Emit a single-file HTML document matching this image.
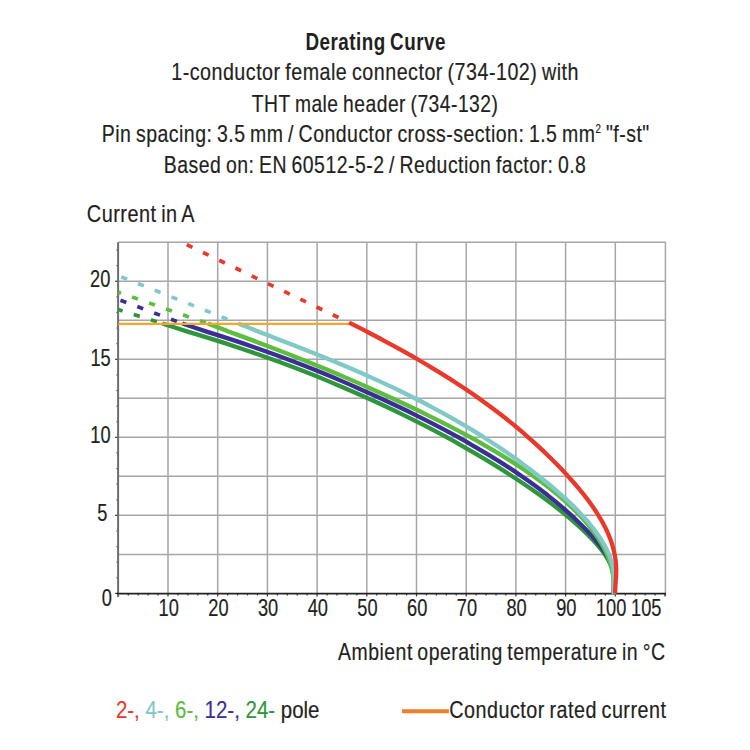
<!DOCTYPE html>
<html><head><meta charset="utf-8"><style>
html,body{margin:0;padding:0;background:#fff;}
svg{display:block;}
text{font-family:"Liberation Sans",sans-serif;}
.ws{word-spacing:-1.6px;letter-spacing:0.6px;}
</style></head><body>
<svg width="750" height="750" viewBox="0 0 750 750">
<rect width="750" height="750" fill="#fff"/>
<line x1="168.00" y1="242.2" x2="168.00" y2="593.4" stroke="#a6a6a6" stroke-width="1.5"/>
<line x1="217.70" y1="242.2" x2="217.70" y2="593.4" stroke="#a6a6a6" stroke-width="1.5"/>
<line x1="267.40" y1="242.2" x2="267.40" y2="593.4" stroke="#a6a6a6" stroke-width="1.5"/>
<line x1="317.10" y1="242.2" x2="317.10" y2="593.4" stroke="#a6a6a6" stroke-width="1.5"/>
<line x1="366.80" y1="242.2" x2="366.80" y2="593.4" stroke="#a6a6a6" stroke-width="1.5"/>
<line x1="416.50" y1="242.2" x2="416.50" y2="593.4" stroke="#a6a6a6" stroke-width="1.5"/>
<line x1="466.20" y1="242.2" x2="466.20" y2="593.4" stroke="#a6a6a6" stroke-width="1.5"/>
<line x1="515.90" y1="242.2" x2="515.90" y2="593.4" stroke="#a6a6a6" stroke-width="1.5"/>
<line x1="565.60" y1="242.2" x2="565.60" y2="593.4" stroke="#a6a6a6" stroke-width="1.5"/>
<line x1="615.30" y1="242.2" x2="615.30" y2="593.4" stroke="#a6a6a6" stroke-width="1.5"/>
<line x1="118.3" y1="554.38" x2="665.6" y2="554.38" stroke="#a6a6a6" stroke-width="1.5"/>
<line x1="118.3" y1="515.36" x2="665.6" y2="515.36" stroke="#a6a6a6" stroke-width="1.5"/>
<line x1="118.3" y1="476.34" x2="665.6" y2="476.34" stroke="#a6a6a6" stroke-width="1.5"/>
<line x1="118.3" y1="437.32" x2="665.6" y2="437.32" stroke="#a6a6a6" stroke-width="1.5"/>
<line x1="118.3" y1="398.30" x2="665.6" y2="398.30" stroke="#a6a6a6" stroke-width="1.5"/>
<line x1="118.3" y1="359.28" x2="665.6" y2="359.28" stroke="#a6a6a6" stroke-width="1.5"/>
<line x1="118.3" y1="320.26" x2="665.6" y2="320.26" stroke="#a6a6a6" stroke-width="1.5"/>
<line x1="118.3" y1="281.24" x2="665.6" y2="281.24" stroke="#a6a6a6" stroke-width="1.5"/>
<line x1="118.3" y1="242.22" x2="665.6" y2="242.22" stroke="#a6a6a6" stroke-width="1.5"/>
<line x1="665.4" y1="242.2" x2="665.4" y2="596" stroke="#a6a6a6" stroke-width="1.5"/>
<line x1="115.10" y1="593.40" x2="118.3" y2="593.40" stroke="#333" stroke-width="1.2"/>
<line x1="116.50" y1="577.79" x2="118.3" y2="577.79" stroke="#333" stroke-width="1.2"/>
<line x1="116.50" y1="562.18" x2="118.3" y2="562.18" stroke="#333" stroke-width="1.2"/>
<line x1="116.50" y1="546.58" x2="118.3" y2="546.58" stroke="#333" stroke-width="1.2"/>
<line x1="116.50" y1="530.97" x2="118.3" y2="530.97" stroke="#333" stroke-width="1.2"/>
<line x1="115.10" y1="515.36" x2="118.3" y2="515.36" stroke="#333" stroke-width="1.2"/>
<line x1="116.50" y1="499.75" x2="118.3" y2="499.75" stroke="#333" stroke-width="1.2"/>
<line x1="116.50" y1="484.14" x2="118.3" y2="484.14" stroke="#333" stroke-width="1.2"/>
<line x1="116.50" y1="468.54" x2="118.3" y2="468.54" stroke="#333" stroke-width="1.2"/>
<line x1="116.50" y1="452.93" x2="118.3" y2="452.93" stroke="#333" stroke-width="1.2"/>
<line x1="115.10" y1="437.32" x2="118.3" y2="437.32" stroke="#333" stroke-width="1.2"/>
<line x1="116.50" y1="421.71" x2="118.3" y2="421.71" stroke="#333" stroke-width="1.2"/>
<line x1="116.50" y1="406.10" x2="118.3" y2="406.10" stroke="#333" stroke-width="1.2"/>
<line x1="116.50" y1="390.50" x2="118.3" y2="390.50" stroke="#333" stroke-width="1.2"/>
<line x1="116.50" y1="374.89" x2="118.3" y2="374.89" stroke="#333" stroke-width="1.2"/>
<line x1="115.10" y1="359.28" x2="118.3" y2="359.28" stroke="#333" stroke-width="1.2"/>
<line x1="116.50" y1="343.67" x2="118.3" y2="343.67" stroke="#333" stroke-width="1.2"/>
<line x1="116.50" y1="328.06" x2="118.3" y2="328.06" stroke="#333" stroke-width="1.2"/>
<line x1="116.50" y1="312.46" x2="118.3" y2="312.46" stroke="#333" stroke-width="1.2"/>
<line x1="116.50" y1="296.85" x2="118.3" y2="296.85" stroke="#333" stroke-width="1.2"/>
<line x1="115.10" y1="281.24" x2="118.3" y2="281.24" stroke="#333" stroke-width="1.2"/>
<line x1="116.50" y1="265.63" x2="118.3" y2="265.63" stroke="#333" stroke-width="1.2"/>
<line x1="116.50" y1="250.02" x2="118.3" y2="250.02" stroke="#333" stroke-width="1.2"/>
<line x1="118.30" y1="593.4" x2="118.30" y2="596.40" stroke="#333" stroke-width="1.2"/>
<line x1="128.24" y1="593.4" x2="128.24" y2="595.40" stroke="#333" stroke-width="1.2"/>
<line x1="138.18" y1="593.4" x2="138.18" y2="595.40" stroke="#333" stroke-width="1.2"/>
<line x1="148.12" y1="593.4" x2="148.12" y2="595.40" stroke="#333" stroke-width="1.2"/>
<line x1="158.06" y1="593.4" x2="158.06" y2="595.40" stroke="#333" stroke-width="1.2"/>
<line x1="168.00" y1="593.4" x2="168.00" y2="596.40" stroke="#333" stroke-width="1.2"/>
<line x1="177.94" y1="593.4" x2="177.94" y2="595.40" stroke="#333" stroke-width="1.2"/>
<line x1="187.88" y1="593.4" x2="187.88" y2="595.40" stroke="#333" stroke-width="1.2"/>
<line x1="197.82" y1="593.4" x2="197.82" y2="595.40" stroke="#333" stroke-width="1.2"/>
<line x1="207.76" y1="593.4" x2="207.76" y2="595.40" stroke="#333" stroke-width="1.2"/>
<line x1="217.70" y1="593.4" x2="217.70" y2="596.40" stroke="#333" stroke-width="1.2"/>
<line x1="227.64" y1="593.4" x2="227.64" y2="595.40" stroke="#333" stroke-width="1.2"/>
<line x1="237.58" y1="593.4" x2="237.58" y2="595.40" stroke="#333" stroke-width="1.2"/>
<line x1="247.52" y1="593.4" x2="247.52" y2="595.40" stroke="#333" stroke-width="1.2"/>
<line x1="257.46" y1="593.4" x2="257.46" y2="595.40" stroke="#333" stroke-width="1.2"/>
<line x1="267.40" y1="593.4" x2="267.40" y2="596.40" stroke="#333" stroke-width="1.2"/>
<line x1="277.34" y1="593.4" x2="277.34" y2="595.40" stroke="#333" stroke-width="1.2"/>
<line x1="287.28" y1="593.4" x2="287.28" y2="595.40" stroke="#333" stroke-width="1.2"/>
<line x1="297.22" y1="593.4" x2="297.22" y2="595.40" stroke="#333" stroke-width="1.2"/>
<line x1="307.16" y1="593.4" x2="307.16" y2="595.40" stroke="#333" stroke-width="1.2"/>
<line x1="317.10" y1="593.4" x2="317.10" y2="596.40" stroke="#333" stroke-width="1.2"/>
<line x1="327.04" y1="593.4" x2="327.04" y2="595.40" stroke="#333" stroke-width="1.2"/>
<line x1="336.98" y1="593.4" x2="336.98" y2="595.40" stroke="#333" stroke-width="1.2"/>
<line x1="346.92" y1="593.4" x2="346.92" y2="595.40" stroke="#333" stroke-width="1.2"/>
<line x1="356.86" y1="593.4" x2="356.86" y2="595.40" stroke="#333" stroke-width="1.2"/>
<line x1="366.80" y1="593.4" x2="366.80" y2="596.40" stroke="#333" stroke-width="1.2"/>
<line x1="376.74" y1="593.4" x2="376.74" y2="595.40" stroke="#333" stroke-width="1.2"/>
<line x1="386.68" y1="593.4" x2="386.68" y2="595.40" stroke="#333" stroke-width="1.2"/>
<line x1="396.62" y1="593.4" x2="396.62" y2="595.40" stroke="#333" stroke-width="1.2"/>
<line x1="406.56" y1="593.4" x2="406.56" y2="595.40" stroke="#333" stroke-width="1.2"/>
<line x1="416.50" y1="593.4" x2="416.50" y2="596.40" stroke="#333" stroke-width="1.2"/>
<line x1="426.44" y1="593.4" x2="426.44" y2="595.40" stroke="#333" stroke-width="1.2"/>
<line x1="436.38" y1="593.4" x2="436.38" y2="595.40" stroke="#333" stroke-width="1.2"/>
<line x1="446.32" y1="593.4" x2="446.32" y2="595.40" stroke="#333" stroke-width="1.2"/>
<line x1="456.26" y1="593.4" x2="456.26" y2="595.40" stroke="#333" stroke-width="1.2"/>
<line x1="466.20" y1="593.4" x2="466.20" y2="596.40" stroke="#333" stroke-width="1.2"/>
<line x1="476.14" y1="593.4" x2="476.14" y2="595.40" stroke="#333" stroke-width="1.2"/>
<line x1="486.08" y1="593.4" x2="486.08" y2="595.40" stroke="#333" stroke-width="1.2"/>
<line x1="496.02" y1="593.4" x2="496.02" y2="595.40" stroke="#333" stroke-width="1.2"/>
<line x1="505.96" y1="593.4" x2="505.96" y2="595.40" stroke="#333" stroke-width="1.2"/>
<line x1="515.90" y1="593.4" x2="515.90" y2="596.40" stroke="#333" stroke-width="1.2"/>
<line x1="525.84" y1="593.4" x2="525.84" y2="595.40" stroke="#333" stroke-width="1.2"/>
<line x1="535.78" y1="593.4" x2="535.78" y2="595.40" stroke="#333" stroke-width="1.2"/>
<line x1="545.72" y1="593.4" x2="545.72" y2="595.40" stroke="#333" stroke-width="1.2"/>
<line x1="555.66" y1="593.4" x2="555.66" y2="595.40" stroke="#333" stroke-width="1.2"/>
<line x1="565.60" y1="593.4" x2="565.60" y2="596.40" stroke="#333" stroke-width="1.2"/>
<line x1="575.54" y1="593.4" x2="575.54" y2="595.40" stroke="#333" stroke-width="1.2"/>
<line x1="585.48" y1="593.4" x2="585.48" y2="595.40" stroke="#333" stroke-width="1.2"/>
<line x1="595.42" y1="593.4" x2="595.42" y2="595.40" stroke="#333" stroke-width="1.2"/>
<line x1="605.36" y1="593.4" x2="605.36" y2="595.40" stroke="#333" stroke-width="1.2"/>
<line x1="615.30" y1="593.4" x2="615.30" y2="596.40" stroke="#333" stroke-width="1.2"/>
<line x1="625.24" y1="593.4" x2="625.24" y2="595.40" stroke="#333" stroke-width="1.2"/>
<line x1="635.18" y1="593.4" x2="635.18" y2="595.40" stroke="#333" stroke-width="1.2"/>
<line x1="645.12" y1="593.4" x2="645.12" y2="595.40" stroke="#333" stroke-width="1.2"/>
<line x1="655.06" y1="593.4" x2="655.06" y2="595.40" stroke="#333" stroke-width="1.2"/>
<line x1="665.00" y1="593.4" x2="665.00" y2="596.40" stroke="#333" stroke-width="1.2"/>
<line x1="118.1" y1="242.2" x2="118.1" y2="597" stroke="#6d6d6d" stroke-width="2"/>
<line x1="117" y1="593.6" x2="666" y2="593.6" stroke="#222" stroke-width="1.8"/>
<path d="M118.3,275.7 L238.2,323.5" stroke="#80c9c6" stroke-width="3.7" fill="none" stroke-dasharray="6.3 11.7" stroke-dashoffset="14.80"/>
<path d="M118.3,292.2 L207.8,323.5" stroke="#5dbd3e" stroke-width="3.7" fill="none" stroke-dasharray="6.3 11.7" stroke-dashoffset="3.47"/>
<path d="M118.3,299.4 L182.3,323.5" stroke="#3b2f96" stroke-width="3.7" fill="none" stroke-dasharray="6.3 11.7" stroke-dashoffset="15.70"/>
<path d="M118.3,309.6 L162.4,323.5" stroke="#2f963c" stroke-width="3.7" fill="none" stroke-dasharray="6.3 11.7" stroke-dashoffset="1.79"/>
<path d="M183.9,243.3 L349.1,322.6" stroke="#e9392a" stroke-width="3.7" fill="none" stroke-dasharray="6.3 11.7" stroke-dashoffset="14.83"/>
<path d="M162.36,323.50 L175.58,327.70 L188.43,331.84 L200.93,335.62 L213.08,339.39 L224.90,343.16 L236.40,346.93 L247.60,350.71 L258.50,354.48 L269.12,358.25 L279.48,362.02 L289.58,365.79 L299.44,369.57 L309.07,373.34 L318.48,377.11 L327.70,380.88 L336.72,384.65 L345.56,388.43 L354.23,392.20 L362.75,395.97 L371.12,399.74 L379.34,403.52 L387.41,407.29 L395.34,411.06 L403.13,414.83 L410.77,418.60 L418.29,422.38 L425.66,426.15 L432.91,429.92 L440.03,433.69 L447.02,437.46 L453.89,441.24 L460.64,445.01 L467.27,448.78 L473.78,452.55 L480.19,456.33 L486.48,460.10 L492.66,463.87 L498.75,467.64 L504.73,471.41 L510.60,475.19 L516.38,478.96 L522.04,482.73 L527.60,486.50 L533.04,490.27 L538.36,494.05 L543.57,497.82 L548.66,501.59 L553.62,505.36 L558.46,509.14 L563.16,512.91 L567.74,516.68 L572.18,520.45 L576.48,524.22 L580.65,528.00 L584.67,531.77 L585.87,532.92 L587.06,534.08 L588.23,535.24 L589.39,536.39 L590.53,537.55 L591.65,538.70 L592.76,539.86 L593.84,541.02 L594.91,542.17 L595.95,543.33 L596.97,544.49 L597.97,545.64 L598.95,546.80 L599.90,547.95 L600.83,549.11 L601.73,550.27 L602.61,551.42 L603.46,552.58 L604.28,553.73 L605.07,554.89 L605.83,556.05 L606.56,557.20 L607.26,558.36 L607.92,559.52 L608.56,560.67 L609.16,561.83 L609.72,562.98 L610.25,564.14 L610.75,565.30 L611.21,566.45 L611.62,567.61 L612.01,568.76 L612.35,569.92 L612.65,571.08 L612.91,572.23 L613.13,573.39 L613.32,574.55 L613.48,575.70 L613.60,576.86 L613.70,578.01 L613.78,579.17 L613.83,580.33 L613.87,581.48 L613.88,582.64 L613.89,583.79 L613.88,584.95 L613.86,586.11 L613.84,587.26 L613.81,588.42 L613.78,589.58 L613.76,590.73 L613.74,591.89 L613.72,593.04 L613.71,594.20" stroke="#2f963c" stroke-width="4.3" fill="none" stroke-linejoin="round"/>
<path d="M182.31,323.50 L195.02,327.68 L207.37,331.84 L219.36,335.62 L231.03,339.39 L242.37,343.16 L253.41,346.93 L264.15,350.71 L274.62,354.48 L284.82,358.25 L294.78,362.02 L304.50,365.79 L313.99,369.57 L323.28,373.34 L332.38,377.11 L341.29,380.88 L350.04,384.65 L358.64,388.43 L367.10,392.20 L375.43,395.97 L383.64,399.74 L391.71,403.52 L399.66,407.29 L407.48,411.06 L415.17,414.83 L422.73,418.60 L430.16,422.38 L437.46,426.15 L444.63,429.92 L451.66,433.69 L458.57,437.46 L465.34,441.24 L471.98,445.01 L478.49,448.78 L484.87,452.55 L491.11,456.33 L497.21,460.10 L503.19,463.87 L509.02,467.64 L514.72,471.41 L520.29,475.19 L525.72,478.96 L531.02,482.73 L536.19,486.50 L541.22,490.27 L546.12,494.05 L550.89,497.82 L555.53,501.59 L560.04,505.36 L564.43,509.14 L568.68,512.91 L572.81,516.68 L576.81,520.45 L580.69,524.22 L584.44,528.00 L588.07,531.77 L589.15,532.92 L590.23,534.08 L591.29,535.24 L592.34,536.39 L593.37,537.55 L594.39,538.70 L595.39,539.86 L596.37,541.02 L597.33,542.17 L598.28,543.33 L599.21,544.49 L600.11,545.64 L601.00,546.80 L601.86,547.95 L602.70,549.11 L603.51,550.27 L604.30,551.42 L605.06,552.58 L605.80,553.73 L606.51,554.89 L607.20,556.05 L607.85,557.20 L608.48,558.36 L609.07,559.52 L609.63,560.67 L610.16,561.83 L610.66,562.98 L611.12,564.14 L611.55,565.30 L611.95,566.45 L612.30,567.61 L612.63,568.76 L612.91,569.92 L613.15,571.08 L613.36,572.23 L613.53,573.39 L613.66,574.55 L613.77,575.70 L613.85,576.86 L613.90,578.01 L613.93,579.17 L613.95,580.33 L613.94,581.48 L613.92,582.64 L613.89,583.79 L613.85,584.95 L613.81,586.11 L613.76,587.26 L613.72,588.42 L613.67,589.58 L613.63,590.73 L613.60,591.89 L613.58,593.04 L613.57,594.20" stroke="#3b2f96" stroke-width="4.3" fill="none" stroke-linejoin="round"/>
<path d="M207.84,323.50 L218.61,327.62 L229.21,331.73 L239.64,335.62 L249.92,339.39 L260.03,343.16 L269.99,346.93 L279.80,350.71 L289.46,354.48 L298.98,358.25 L308.36,362.02 L317.61,365.79 L326.73,369.57 L335.71,373.34 L344.58,377.11 L353.33,380.88 L361.96,384.65 L370.47,388.43 L378.88,392.20 L387.19,395.97 L395.39,399.74 L403.47,403.52 L411.44,407.29 L419.30,411.06 L427.03,414.83 L434.65,418.60 L442.13,422.38 L449.49,426.15 L456.72,429.92 L463.81,433.69 L470.77,437.46 L477.59,441.24 L484.26,445.01 L490.79,448.78 L497.18,452.55 L503.41,456.33 L509.48,460.10 L515.40,463.87 L521.17,467.64 L526.76,471.41 L532.20,475.19 L537.47,478.96 L542.57,482.73 L547.51,486.50 L552.28,490.27 L556.89,494.05 L561.32,497.82 L565.59,501.59 L569.68,505.36 L573.60,509.14 L577.36,512.91 L580.94,516.68 L584.34,520.45 L587.58,524.22 L590.64,528.00 L593.52,531.77 L594.37,532.92 L595.20,534.08 L596.01,535.24 L596.81,536.39 L597.59,537.55 L598.35,538.70 L599.10,539.86 L599.83,541.02 L600.54,542.17 L601.24,543.33 L601.91,544.49 L602.57,545.64 L603.21,546.80 L603.83,547.95 L604.44,549.11 L605.02,550.27 L605.59,551.42 L606.14,552.58 L606.67,553.73 L607.18,554.89 L607.67,556.05 L608.14,557.20 L608.60,558.36 L609.03,559.52 L609.45,560.67 L609.84,561.83 L610.22,562.98 L610.58,564.14 L610.91,565.30 L611.23,566.45 L611.53,567.61 L611.80,568.76 L612.06,569.92 L612.29,571.08 L612.51,572.23 L612.70,573.39 L612.88,574.55 L613.04,575.70 L613.18,576.86 L613.31,578.01 L613.42,579.17 L613.52,580.33 L613.61,581.48 L613.68,582.64 L613.74,583.79 L613.79,584.95 L613.83,586.11 L613.87,587.26 L613.89,588.42 L613.91,589.58 L613.93,590.73 L613.93,591.89 L613.94,593.04 L613.94,594.20" stroke="#5dbd3e" stroke-width="4.3" fill="none" stroke-linejoin="round"/>
<path d="M238.16,323.50 L248.47,327.60 L258.67,331.70 L268.73,335.62 L278.67,339.39 L288.48,343.16 L298.16,346.93 L307.69,350.71 L317.09,354.48 L326.34,358.25 L335.45,362.02 L344.40,365.79 L353.21,369.57 L361.85,373.34 L370.34,377.11 L378.67,380.88 L386.83,384.65 L394.82,388.43 L402.65,392.20 L410.30,395.97 L417.78,399.74 L425.09,403.52 L432.25,407.29 L439.24,411.06 L446.09,414.83 L452.78,418.60 L459.32,422.38 L465.73,426.15 L471.99,429.92 L478.12,433.69 L484.11,437.46 L489.98,441.24 L495.72,445.01 L501.35,448.78 L506.85,452.55 L512.25,456.33 L517.53,460.10 L522.71,463.87 L527.78,467.64 L532.76,471.41 L537.64,475.19 L542.41,478.96 L547.07,482.73 L551.63,486.50 L556.06,490.27 L560.37,494.05 L564.56,497.82 L568.62,501.59 L572.54,505.36 L576.31,509.14 L579.95,512.91 L583.43,516.68 L586.76,520.45 L589.94,524.22 L592.94,528.00 L595.79,531.77 L596.62,532.92 L597.44,534.08 L598.24,535.24 L599.03,536.39 L599.80,537.55 L600.55,538.70 L601.28,539.86 L602.00,541.02 L602.70,542.17 L603.38,543.33 L604.04,544.49 L604.68,545.64 L605.30,546.80 L605.90,547.95 L606.48,549.11 L607.04,550.27 L607.58,551.42 L608.10,552.58 L608.60,553.73 L609.08,554.89 L609.53,556.05 L609.97,557.20 L610.38,558.36 L610.77,559.52 L611.14,560.67 L611.48,561.83 L611.80,562.98 L612.10,564.14 L612.37,565.30 L612.62,566.45 L612.85,567.61 L613.05,568.76 L613.23,569.92 L613.38,571.08 L613.50,572.23 L613.61,573.39 L613.69,574.55 L613.75,575.70 L613.80,576.86 L613.83,578.01 L613.84,579.17 L613.85,580.33 L613.84,581.48 L613.82,582.64 L613.80,583.79 L613.77,584.95 L613.74,586.11 L613.71,587.26 L613.67,588.42 L613.64,589.58 L613.61,590.73 L613.59,591.89 L613.58,593.04 L613.57,594.20" stroke="#80c9c6" stroke-width="4.3" fill="none" stroke-linejoin="round"/>
<line x1="118.3" y1="323.9" x2="350.6" y2="323.9" stroke="#f5a62a" stroke-width="2.4"/>
<path d="M349.12,322.60 L356.64,326.39 L364.07,330.18 L371.38,333.97 L378.60,337.75 L385.70,341.54 L392.70,345.33 L399.59,349.12 L406.36,352.91 L413.03,356.70 L419.59,360.49 L426.04,364.27 L432.37,368.06 L438.59,371.85 L444.70,375.64 L450.69,379.43 L456.57,383.22 L462.33,387.00 L467.97,390.79 L473.50,394.58 L478.91,398.37 L484.21,402.16 L489.39,405.95 L494.47,409.74 L499.44,413.52 L504.30,417.31 L509.07,421.10 L513.73,424.89 L518.29,428.68 L522.76,432.47 L527.13,436.26 L531.41,440.04 L535.60,443.83 L539.71,447.62 L543.73,451.41 L547.66,455.20 L551.51,458.99 L555.29,462.77 L558.98,466.56 L562.61,470.35 L566.15,474.14 L569.62,477.93 L573.00,481.72 L576.29,485.51 L579.48,489.29 L582.57,493.08 L585.56,496.87 L588.43,500.66 L591.20,504.45 L593.84,508.24 L596.36,512.03 L598.74,515.81 L601.00,519.60 L603.11,523.39 L605.08,527.18 L606.90,530.97 L607.42,532.12 L607.93,533.28 L608.43,534.44 L608.91,535.59 L609.38,536.75 L609.83,537.90 L610.27,539.06 L610.69,540.22 L611.10,541.37 L611.49,542.53 L611.87,543.69 L612.23,544.84 L612.58,546.00 L612.91,547.15 L613.23,548.31 L613.53,549.47 L613.81,550.62 L614.08,551.78 L614.34,552.93 L614.57,554.09 L614.80,555.25 L615.00,556.40 L615.19,557.56 L615.37,558.72 L615.53,559.87 L615.67,561.03 L615.80,562.18 L615.91,563.34 L616.00,564.50 L616.08,565.65 L616.14,566.81 L616.18,567.96 L616.21,569.12 L616.22,570.28 L616.21,571.43 L616.19,572.59 L616.15,573.75 L616.11,574.90 L616.05,576.06 L615.99,577.21 L615.92,578.37 L615.84,579.53 L615.76,580.68 L615.68,581.84 L615.60,582.99 L615.52,584.15 L615.45,585.31 L615.38,586.46 L615.31,587.62 L615.26,588.78 L615.21,589.93 L615.17,591.09 L615.15,592.24 L615.14,593.40" stroke="#e9392a" stroke-width="4.3" fill="none" stroke-linejoin="round"/>
<text class="ws" x="305.4" y="50.1" textLength="140.5" lengthAdjust="spacingAndGlyphs" font-size="24" font-weight="bold" fill="#231f20" stroke="#231f20" stroke-width="0">Derating Curve</text>
<text class="ws" x="171.2" y="80.4" textLength="407.8" lengthAdjust="spacingAndGlyphs" font-size="24" font-weight="normal" fill="#231f20" stroke="#231f20" stroke-width="0.2">1-conductor female connector (734-102) with</text>
<text class="ws" x="251.8" y="111.5" textLength="246.6" lengthAdjust="spacingAndGlyphs" font-size="24" font-weight="normal" fill="#231f20" stroke="#231f20" stroke-width="0.2">THT male header (734-132)</text>
<text class="ws" x="101.8" y="141.8" font-size="24" fill="#231f20" stroke="#231f20" stroke-width="0.2" textLength="547.9" lengthAdjust="spacingAndGlyphs">Pin spacing: 3.5 mm / Conductor cross-section: 1.5 mm<tspan font-size="12" dy="-8.5">2</tspan><tspan dy="8.5"> "f-st"</tspan></text>
<text class="ws" x="163.8" y="172.5" textLength="422.6" lengthAdjust="spacingAndGlyphs" font-size="24" font-weight="normal" fill="#231f20" stroke="#231f20" stroke-width="0.2">Based on: EN 60512-5-2 / Reduction factor: 0.8</text>
<text class="ws" x="86.8" y="222.2" textLength="108.2" lengthAdjust="spacingAndGlyphs" font-size="24" font-weight="normal" fill="#231f20" stroke="#231f20" stroke-width="0.2">Current in A</text>
<text x="0" y="0" text-anchor="middle" font-size="24" fill="#231f20" stroke="#231f20" stroke-width="0.2" transform="translate(100.25 287.20) scale(0.76 1)">20</text>
<text x="0" y="0" text-anchor="middle" font-size="24" fill="#231f20" stroke="#231f20" stroke-width="0.2" transform="translate(100.55 365.60) scale(0.76 1)">15</text>
<text x="0" y="0" text-anchor="middle" font-size="24" fill="#231f20" stroke="#231f20" stroke-width="0.2" transform="translate(100.40 443.40) scale(0.76 1)">10</text>
<text x="0" y="0" text-anchor="middle" font-size="24" fill="#231f20" stroke="#231f20" stroke-width="0.2" transform="translate(102.40 521.40) scale(0.76 1)">5</text>
<text x="0" y="0" text-anchor="middle" font-size="24" fill="#231f20" stroke="#231f20" stroke-width="0.2" transform="translate(106.90 606.00) scale(0.76 1)">0</text>
<text x="0" y="0" text-anchor="middle" font-size="24" fill="#231f20" stroke="#231f20" stroke-width="0.2" transform="translate(168.70 616.00) scale(0.76 1)">10</text>
<text x="0" y="0" text-anchor="middle" font-size="24" fill="#231f20" stroke="#231f20" stroke-width="0.2" transform="translate(218.40 616.00) scale(0.76 1)">20</text>
<text x="0" y="0" text-anchor="middle" font-size="24" fill="#231f20" stroke="#231f20" stroke-width="0.2" transform="translate(268.10 616.00) scale(0.76 1)">30</text>
<text x="0" y="0" text-anchor="middle" font-size="24" fill="#231f20" stroke="#231f20" stroke-width="0.2" transform="translate(317.80 616.00) scale(0.76 1)">40</text>
<text x="0" y="0" text-anchor="middle" font-size="24" fill="#231f20" stroke="#231f20" stroke-width="0.2" transform="translate(367.50 616.00) scale(0.76 1)">50</text>
<text x="0" y="0" text-anchor="middle" font-size="24" fill="#231f20" stroke="#231f20" stroke-width="0.2" transform="translate(417.20 616.00) scale(0.76 1)">60</text>
<text x="0" y="0" text-anchor="middle" font-size="24" fill="#231f20" stroke="#231f20" stroke-width="0.2" transform="translate(466.90 616.00) scale(0.76 1)">70</text>
<text x="0" y="0" text-anchor="middle" font-size="24" fill="#231f20" stroke="#231f20" stroke-width="0.2" transform="translate(516.60 616.00) scale(0.76 1)">80</text>
<text x="0" y="0" text-anchor="middle" font-size="24" fill="#231f20" stroke="#231f20" stroke-width="0.2" transform="translate(566.30 616.00) scale(0.76 1)">90</text>
<text x="0" y="0" text-anchor="middle" font-size="24" fill="#231f20" stroke="#231f20" stroke-width="0.2" transform="translate(611.10 616.00) scale(0.76 1)">100</text>
<text x="0" y="0" text-anchor="middle" font-size="24" fill="#231f20" stroke="#231f20" stroke-width="0.2" transform="translate(646.30 616.00) scale(0.76 1)">105</text>
<text class="ws" x="338.1" y="659.5" textLength="327.4" lengthAdjust="spacingAndGlyphs" font-size="24" font-weight="normal" fill="#231f20" stroke="#231f20" stroke-width="0.2">Ambient operating temperature in °C</text>
<text x="115.9" y="718.4" font-size="24" textLength="203.6" lengthAdjust="spacingAndGlyphs" stroke-width="0.2"><tspan fill="#e9392a" stroke="#e9392a">2-, </tspan><tspan fill="#80c9c6" stroke="#80c9c6">4-, </tspan><tspan fill="#5dbd3e" stroke="#5dbd3e">6-, </tspan><tspan fill="#3b2f96" stroke="#3b2f96">12-, </tspan><tspan fill="#2f963c" stroke="#2f963c">24- </tspan><tspan fill="#231f20" stroke="#231f20">pole</tspan></text>
<line x1="402" y1="711.3" x2="448.9" y2="711.3" stroke="#f07f2b" stroke-width="4"/>
<text class="ws" x="449.3" y="718.2" textLength="217.1" lengthAdjust="spacingAndGlyphs" font-size="24" font-weight="normal" fill="#231f20" stroke="#231f20" stroke-width="0.2">Conductor rated current</text>
</svg>
</body></html>
